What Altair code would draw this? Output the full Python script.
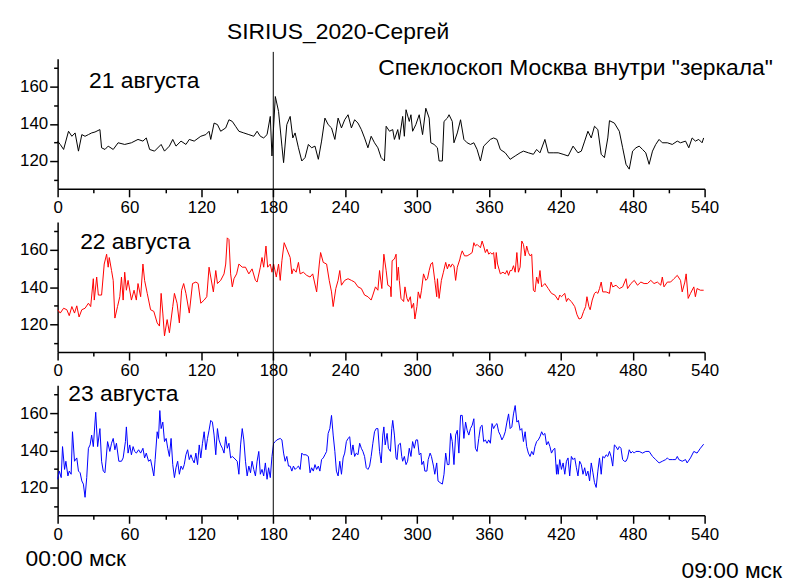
import altair as alt
import pandas as pd

# ---------------- data (minute after 00:00 msk, value) ----------------
day21 = [(0,130.7),(2.2,128.9),(5,126.2),(9.1,136),(11.9,133.3),(14.6,135.1),(17.4,125.3),(20.2,134.2),
 (22.9,133.3),(25.7,134.2),(28.4,135.1),(31.2,135.6),(35.3,136.9),(36.7,127.1),(39.5,126.2),(42.2,128),
 (46.4,126.2),(50.5,129.8),(56,128.9),(61.6,129.8),(67.1,131.6),(71.2,130.7),(74,132.4),(76.8,126.2),
 (80.9,125.3),(86.4,128.9),(89.2,125.3),(93.3,128),(96.1,131.6),(98.8,128),(103,130.7),(107.1,128.9),
 (109.9,131.6),(114,130.7),(119.5,133.3),(123.7,134.2),(126.4,136),(127.8,131.6),(130.6,140.4),(133.4,139.6),
 (136.1,136),(140.3,137.8),(143,142.2),(145.8,141.3),(148.5,138.7),(151.3,136),(155.4,135.1),(159.6,134.2),
 (163.7,133.3),(166.5,136),(169.2,133.3),(172,132.4),(174.8,134.2),(177.5,144),(178.9,122.7),(181.7,154.7),
 (184.4,146.7),(187.2,128),(188.6,119.1),(191.3,139.6),(194.1,144),(196.3,132.4),(198.2,135.1),(201,127.1),
 (203.8,120),(206.5,121.8),(209.3,128.9),(212,127.1),(214.8,128),(217.6,120.9),(220.3,130.7),(223.1,143.1),
 (225.8,139.6),(228.6,137.8),(231.4,131.6),(234.1,143.1),(236.9,137.8),(239.6,142.2),(242.4,144.9),(245.2,137.8),
 (247.9,142.2),(250.7,140.4),(253.5,136.9),(256.2,132.4),(259,127.1),(261.7,133.3),(264.5,129.8),(267.3,127.1),
 (270,121.8),(272.8,120),(274.2,138.7),(277,136),(279.7,136.9),(281.1,131.6),(283.9,136.9),(285.2,131.6),
 (288,144),(289.4,133.3),(290.8,147.6),(293.5,141.3),(294.9,144.9),(296.3,136),(299,139.6),(301.8,144.9),
 (304.6,134.2),(307.3,148.4),(310.1,143.1),(311.5,129.8),(314.2,128.9),(317,127.1),(318.4,120),(321.1,120),
 (322.5,141.3),(325.3,143.1),(326.7,144.9),(329.4,141.3),(330.8,129.8),(333.6,135.1),(336.3,142.2),(339.1,131.6),
 (341.8,129.8),(344.6,128.9),(347.4,129.8),(350.1,126.2),(352.9,120),(355.6,128),(358.4,129.8),(361.2,131.6),
 (363.9,132.4),(366.7,131.6),(369.5,126.2),(373.6,124.4),(377.7,120.9),(381.9,122.7),(386,124.4),(388.8,125.3),
 (392.9,124.4),(397.1,123.6),(399.8,126.2),(402.6,124.4),(406.7,131.6),(409.5,124.4),(413.6,124.4),(417.8,124.4),
 (421.9,123.6),(426.1,122.7),(430.2,128),(434.3,124.4),(437.1,125.3),(439.9,130.7),(442.6,136),(445.4,132.4),
 (448.1,138.7),(450.9,136.9),(453.7,123.6),(456.4,121.8),(459.2,132.4),(460.6,141.7),(464.7,140.4),(468.8,136),
 (471.6,127.1),(474.4,118.2),(477.1,115.6),(479.9,125.3),(482.7,127.1),(485.4,128),(488.2,126.2),(490.9,124.4),
 (493.7,118.2),(496.5,125.3),(499.2,128.9),(502,131.6),(504.7,129.8),(508.9,129.8),(513,128.9),(517.2,130.7),
 (519.9,129.8),(524.1,130.7),(526.8,127.1),(529.6,132.4),(532.3,130.7),(535.1,131.6),(537.9,129.8),(539.2,132.4)]

day22 = [(0,127.8),(2.2,126),(5,128.6),(7.7,127.8),(9.7,124.6),(11.9,129.5),(14.1,126),(16,129.9),(17.9,123.9),
 (20.2,127.8),(22.9,128.6),(25.7,131.3),(27.6,129.5),(29.8,144.5),(30.6,133),(32.6,145.4),(34,135.7),(36.7,135.7),
 (38.9,152.4),(40.9,157.7),(42.2,150.7),(43.1,155.9),(45,148.9),(46.4,143.6),(47.8,123.3),(50,129.5),(51.9,134.8),
 (53.3,145.4),(54.7,133),(56,148),(57.4,138.3),(58.8,143.6),(61.6,133),(63.8,138.3),(65.7,133),(67.1,141.9),
 (69.3,134.8),(71.2,152.4),(72.6,143.6),(74.8,136.6),(77.6,127.8),(80.3,126.9),(83.1,120.7),(85,119),(86.4,136.6),
 (87.8,126),(89.2,113.7),(91.4,122.5),(93.3,115.4),(96.1,129.5),(97.5,136.6),(99.7,131.3),(101.6,120.7),(103.5,138.3),
 (105.2,141.9),(107.1,136.6),(109.9,126),(112.6,141.9),(115.4,142.7),(117.3,141.9),(119.5,131.3),(122.3,133),
 (124.5,134.8),(126.4,150.7),(127.8,145.4),(130,137.4),(132,148.9),(133.4,141.9),(136.1,143.6),(138.9,147.1),
 (140.3,152.4),(141.6,166.5),(143,165.6),(144.4,147.1),(145.8,140.1),(147.2,144.5),(149.4,147.1),(151.3,152.4),
 (154.1,150.7),(156.8,150.7),(159.6,147.1),(162.3,149.8),(165.1,143.6),(166.5,142.7),(169.2,150.7),(170.6,155.9),
 (172,150.7),(173.9,162.1),(175.3,150.7),(177.5,152.4),(178.9,148),(180.3,152.4),(182.5,145.4),(184.4,152.4),
 (185.8,143.6),(187.2,154.2),(189.1,163.9),(191.3,160.4),(194.1,155.9),(195.5,147.1),(196.8,149.8),(199.1,148),
 (201,153.3),(202.4,147.1),(205.1,148),(207.9,146.3),(210.7,145.4),(212.9,147.1),(216.2,137.4),(218.4,152.4),
 (219.5,158.6),(221.7,153.3),(224.5,152.4),(226.7,143.6),(228.6,137.4),(230,129.5),(232.2,139.2),(234.1,143.6),
 (235.5,148.9),(236.9,141),(239.6,143.6),(242.4,144.5),(245.2,143.6),(247.9,142.7),(250.7,140.1),(253.5,139.2),
 (256.2,135.7),(259,134.8),(261.7,133),(263.1,135.7),(265.3,140.1),(267.3,138.3),(268.7,148.9),(270.6,139.2),
 (272.3,157.7),(274.2,148.9),(275.6,141),(277.8,140.1),(278.3,134.8),(279.2,154.2),(281.1,155.1),(282.5,157.7),
 (283.3,143.6),(284.4,150.7),(285.2,143.6),(286.6,133.9),(288.8,132.2),(289.9,140.1),(291.6,133.9),(292.7,132.2),
 (294.4,134.8),(295.5,128.6),(297.1,131.3),(298.2,122.8),(299.9,129.5),(301,137.4),(302.6,133.9),(303.7,138.3),
 (305.4,147.1),(307.3,143.6),(308.7,144.5),(310.1,148.9),(311.5,152.4),(312.9,153.3),(314.8,143.6),(316.4,134.8),
 (317,144.5),(318.4,133.9),(320.3,143.6),(322,148),(323.9,153.3),(325.3,149.8),(326.7,152.4),(328,150.7),
 (329.4,152.4),(330.8,151.5),(332.2,143.6),(333.6,150.7),(335.8,155.1),(336.3,156.8),(337.7,159.5),(339.6,156.8),
 (341.8,156.8),(344.1,157.7),(346,158.6),(347.4,163.9),(348.7,162.1),(350.1,163),(351.5,162.1),(352.9,161.2),
 (354.3,164.8),(355.6,162.1),(357,158.6),(358.4,160.4),(359.8,157.7),(361.2,158.6),(362.6,157.7),(363.9,158.6),
 (365.3,149.8),(366.1,158.6),(367.2,152.4),(369.5,147.1),(371.7,148),(373.6,147.1),(375,148.9),(376.4,146.3),
 (377.7,148.9),(379.1,148.9),(380.5,151.5),(381.9,148),(383.3,158.6),(384.6,148),(386,150.7),(387.4,164.8),
 (388.8,163),(390.2,156.8),(391.5,162.1),(392.9,158.6),(394.3,156.8),(395.7,157.7),(397.1,138.3),(398.4,137.4),
 (399.8,145.4),(401.2,141.9),(402.6,148.9),(404,140.1),(405.4,141),(406.7,141.9),(409.5,139.2),(412.2,136.6),
 (415,135.7),(417.8,133),(419.1,135.7),(420.5,134.8),(423.3,136.6),(424.7,132.2),(426,133.9),(428.8,132.2),
 (431.6,129.5),(433.5,125.1),(435.2,122.8),(437.1,123.3),(439,126.9),(440.7,129.5),(441.8,134.8),(443.4,129.5),
 (444.5,127.8),(446.2,133),(448.1,136.6),(449.5,137.4),(450.9,136.6),(452.3,139.2),(453.7,142.7),(455,137.4),
 (457.8,137.4),(460.6,136.6),(461.9,142.7),(463.3,140.1),(466.1,141),(468.8,139.2),(471.6,140.1),(474.4,144.5),
 (475.7,139.2),(478.5,141.9),(481.3,143.6),(484,141),(486.8,142.7),(489.5,141.9),(492.3,141.9),(495.1,143.6),
 (497.8,141.9),(500.6,142.7),(503.4,141),(504.7,145.4),(506.1,140.1),(508.9,142.7),(511.6,142.7),(514.4,144.5),
 (517.2,146.3),(519.9,143.6),(521.3,137.4),(523.5,142.7),(524.6,147.1),(526.3,133.9),(528.2,136.6),(531,140.1),
 (532.3,134.8),(533.7,139.2),(536.5,138.3),(539.2,138.3)]

day23 = [(0,124.4),(1.4,128.8),(3,125.3),(4.1,142),(5.8,129.7),(6.9,134.1),(8.6,126.2),(9.7,128.8),(11.3,127.1),
 (12.4,150),(14.1,134.1),(16,135.9),(17.4,128.8),(18.8,127.9),(20.2,123.5),(21.5,121.8),(22.9,114.7),(24.3,125.3),
 (25.7,141.1),(27.1,142.9),(28.4,148.2),(29.8,142),(31.8,160.5),(33.4,142),(35.3,151.7),(36.7,134.1),(38.1,128.8),
 (39.5,127.9),(41.7,144.7),(43.6,139.4),(45,143.8),(46.4,146.4),(47.8,140.3),(49.1,143.8),(51.1,134.1),(53.3,134.1),
 (54.7,135.9),(56.6,144.7),(57.4,152.6),(58.8,138.5),(60.2,142.9),(61.6,137.6),(63,142),(64.3,139.4),(65.7,138.5),
 (67.6,140.3),(69.3,138.5),(71.2,141.1),(72.6,135.9),(74,138.5),(75.9,134.1),(77.6,135),(78.7,131.5),(80.3,126.2),
 (81.4,135),(83.1,150),(84.2,146.4),(85.3,161.4),(86.4,151.7),(87.8,155.2),(89.2,144.7),(90.6,146.4),(91.9,141.1),
 (93.3,136.7),(94.7,146.4),(96.1,132.3),(97.5,125.3),(98.8,130.6),(100.2,134.1),(101.6,127.1),(103,131.5),
 (104.4,129.7),(105.7,132.3),(107.1,137.6),(108.5,140.3),(109.9,135),(111.3,137.6),(112.6,135),(114,133.2),
 (115.4,138.5),(116.8,132.3),(118.2,142.9),(119.5,135.9),(120.9,143.8),(122.3,150),(123.7,140.3),(125.1,146.4),
 (126.4,150.8),(127.8,156.1),(129.2,155.2),(130.6,148.2),(132,137.6),(133.4,151.7),(134.7,145.6),(136.1,142.9),
 (137.5,141.1),(138.9,138.5),(140.3,147.3),(141.6,141.1),(143,143.8),(144.4,135.9),(145.8,136.7),(147.2,135.9),
 (149.9,134.1),(151.3,127.1),(152.7,142.9),(154.1,151.7),(155.4,145.6),(156.8,134.1),(158.2,126.2),(159.6,131.5),
 (161,127.9),(162.3,134.1),(163.7,129.7),(165.1,126.2),(166.5,134.1),(167.9,139.4),(169.2,127.1),(170.6,129.7),
 (172,126.2),(173.4,133.2),(174.8,124.4),(176.1,130.6),(177.5,125.3),(178.9,136.7),(180.3,143.8),(181.7,144.7),
 (183,145.6),(185.8,146.4),(187.2,145.6),(188.6,138.5),(189.9,134.1),(191.3,136.7),(192.7,131.5),(194.1,131.5),
 (195.5,128.8),(196.8,131.5),(198.2,129.7),(199.6,130.6),(201,131.5),(202.4,129.7),(203.8,138.5),(205.1,137.6),
 (207.3,137.6),(209.3,136.7),(210.7,127.9),(212,130.6),(213.4,128.8),(214.8,132.3),(216.2,129.7),(217.6,131.5),
 (218.9,128.8),(220.3,135),(221.7,135.9),(223.1,137.6),(224.5,139.4),(225.8,149.1),(227.2,151.7),(228.6,158.8),
 (230,148.2),(231.4,139.4),(232.7,128.8),(234.1,126.2),(235.5,134.1),(236.9,127.1),(238.3,135.9),(239.6,138.5),
 (241,144.7),(242.4,146.4),(243.8,147.3),(245.2,137.6),(246.5,142.9),(247.9,136.7),(249.3,138.5),(250.7,137.6),
 (252.1,143.8),(253.5,141.1),(254.8,139.4),(256.2,136.7),(257.6,130.6),(259,129.7),(260.4,131.5),(261.7,136.7),
 (263.1,143.8),(264.5,150),(265.9,151.7),(267.3,151.7),(268.7,139.4),(270.1,133.2),(271.4,148.2),(272.3,152.6),
 (273.4,142.9),(275,149.1),(276.1,141.1),(277.8,139.4),(278.9,151.7),(279.7,156.1),(281.1,148.2),(282.5,135.9),
 (283.3,135),(284.4,142.9),(286.1,143.8),(287.2,136.7),(288,134.1),(289.4,136.7),(290.8,132.3),(292.1,134.1),
 (293.5,141.1),(294.9,136.7),(296.3,144.7),(297.7,141.1),(299.1,145.6),(300.4,145.6),(301.8,137.6),(303.2,138.5),
 (304,132.3),(305.4,134.1),(306.5,128.8),(308.2,128.8),(309.3,135),(310.9,138.5),(312,136.7),(313.7,131.5),
 (314.8,127.1),(316.4,133.2),(317.5,123.5),(319.2,122.6),(321.1,121.8),(322.5,127.1),(323.9,138.5),(325.3,132.3),
 (326.7,132.3),(328,149.1),(329.4,144.7),(330.8,132.3),(332.2,148.2),(333.6,150.8),(334.9,138.5),(336.3,158.8),
 (337.7,158.8),(339.1,146.4),(340.5,155.2),(341.8,150.8),(343.2,148.2),(344.6,151.7),(346,153.5),(347.4,157),
 (348.7,141.1),(350.1,139.4),(351.5,146.4),(352.9,152.6),(354.3,153.5),(355.6,144.7),(357,145.6),(358.4,143.8),
 (359.8,145.6),(361.2,143.8),(362.6,154.4),(363.9,151.7),(365.3,153.5),(366.7,154.4),(368.1,150),(369.5,148.2),
 (370.8,145.6),(372.2,147.3),(373.6,150),(375,155.2),(376.4,159.6),(377.7,151.7),(379.1,152.6),(380.5,159.6),
 (381.9,164.1),(383.3,155.2),(384.6,156.1),(386,150.8),(387.4,151.7),(388.8,144.7),(390.2,150),(391.5,142),
 (392.9,138.5),(394.3,136.7),(395.7,139.4),(397.1,137.6),(398.4,142),(399.8,144.7),(401.2,145.6),(402.6,147.3),
 (404,150),(405.3,148.2),(406.7,149.1),(408.1,142.9),(409.5,144.7),(410.9,142),(412.2,138.5),(413.6,140.3),
 (415,141.1),(416.4,127.1),(416.9,132.3),(417.8,127.1),(419.1,135),(420.5,129.7),(421.9,133.2),(423.3,127.1),
 (424.7,134.1),(426,135.9),(427.4,126.2),(428.8,136.7),(430.2,135),(431.6,135.9),(433,130.6),(434.3,126.2),
 (435.7,134.1),(437.1,132.3),(438.5,127.1),(439.9,130.6),(441.2,126.2),(442.6,128.8),(444,123.5),(445.4,133.2),
 (446.8,127.9),(448.1,122.6),(449.5,120),(450.9,128.8),(452.3,135.9),(453.7,127.1),(455,136.7),(456.4,135.9),
 (457.8,137.6),(459.2,136.7),(460.6,139.4),(461.9,136.7),(463.3,131.5),(464.7,142.9),(466.1,142),(467.5,140.3),
 (468.8,142),(470.2,141.1),(471.6,135),(473,134.1),(474.4,134.1),(475.7,135.9),(477.1,140.3),(478.5,138.5),
 (479.9,139.4),(481.3,138.5),(482.6,139.4),(485.4,139.4),(488.2,138.5),(490.9,139.4),(493.7,139.4),(496.5,136.7),
 (499.2,135),(502,133.2),(504.7,134.1),(507.5,135),(508.9,135.9),(510.3,135),(513,135),(515.8,135),(517.2,136.7),
 (518.5,135),(521.3,134.1),(524.1,135),(525.4,133.2),(528.2,135.9),(531,139.4),(533.7,138.5),(536.5,141.1),
 (539.2,143.3)]

x_major = [0, 60, 120, 180, 240, 300, 360, 420, 480, 540]
x_minor = [30, 90, 150, 210, 270, 330, 390, 450, 510]
y_major = [120, 140, 160]
y_minor = [110, 130, 150, 170]
marker_minutes = [180]

title_text = "SIRIUS_2020-Сергей"
subtitle_text = 'Спеклоскоп Москва внутри "зеркала"'
day_labels = ["21 августа", "22 августа", "23 августа"]
start_label = "00:00 мск"
end_label = "09:00 мск"
colors = ["#000000", "#ff0000", "#0000ff"]

FONT = "Liberation Sans"
W, H = 652, 131
GAP = 33.5
TXT = 23

xvals = sorted(x_major + x_minor)
yvals = sorted(y_major + y_minor)

x_axis = alt.Axis(values=xvals, title=None, grid=False,
                  labelExpr="datum.value % 60 === 0 ? datum.label : ''",
                  tickSize={"condition": {"test": "datum.value % 60 === 0", "value": 8}, "value": 4},
                  labelFont=FONT, labelFontSize=17, labelColor="black", labelPadding=3,
                  labelOverlap=False, labelFlush=False,
                  domainColor="black", tickColor="black", domainWidth=1.5, tickWidth=1.5)
y_axis = alt.Axis(values=yvals, title=None, grid=False,
                  labelExpr="datum.value % 20 === 0 ? datum.label : ''",
                  tickSize={"condition": {"test": "datum.value % 20 === 0", "value": 8}, "value": 4},
                  labelFont=FONT, labelFontSize=17, labelColor="black", labelPadding=2,
                  labelOverlap=False, labelFlush=False,
                  domainColor="black", tickColor="black", domainWidth=1.5, tickWidth=1.5)

xs = alt.Scale(domain=[0, 540], nice=False, zero=False)
ys = alt.Scale(domain=[105, 175], nice=False, zero=False)
one = pd.DataFrame({"k": [0]})


def txt(s, x, y, align="left"):
    return alt.Chart(one).mark_text(text=s, font=FONT, fontSize=TXT, color="black",
                                    align=align, baseline="alphabetic").encode(
        x=alt.value(x), y=alt.value(y))


def panel(pairs, color, rule_top, texts):
    df = pd.DataFrame(pairs, columns=["t", "v"])
    line = alt.Chart(df).mark_line(color=color, strokeWidth=1).encode(
        x=alt.X("t:Q", scale=xs, axis=x_axis),
        y=alt.Y("v:Q", scale=ys, axis=y_axis))
    rule = alt.Chart(pd.DataFrame({"t": marker_minutes})).mark_rule(
        color="black", strokeWidth=1).encode(
        x=alt.X("t:Q", scale=xs, axis=x_axis), y=alt.value(rule_top), y2=alt.value(H))
    return alt.layer(line, rule, *texts).properties(width=W, height=H)


p1 = panel(day21, colors[0], -7, [txt(title_text, 170.7, -20), txt(subtitle_text, 720.7, 16, "right"),
                                  txt(day_labels[0], 31.7, 29)])
p2 = panel(day22, colors[1], -GAP, [txt(day_labels[1], 22.7, 27)])
p3 = panel(day23, colors[2], -GAP, [txt(day_labels[2], 10.7, 16),
                                    txt(start_label, -32.3, 182), txt(end_label, 628.7, 194)])

chart = alt.vconcat(p1, p2, p3, spacing=GAP, bounds="flush").properties(
    padding={"left": 11, "top": 11, "right": 0, "bottom": 0}, background="white"
).configure_view(stroke=None)

chart.save("out.html", embed_options={"renderer": "svg", "actions": False})
